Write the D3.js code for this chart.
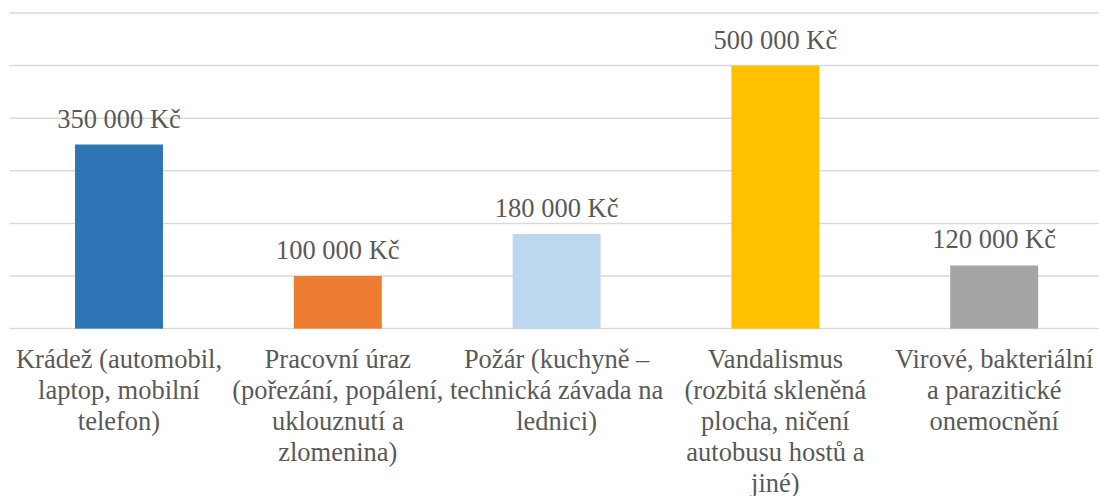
<!DOCTYPE html>
<html>
<head>
<meta charset="utf-8">
<script src="https://cdn.jsdelivr.net/npm/d3@7"></script>
<style>
html, body { margin: 0; padding: 0; background: #fff; }
svg { display: block; }
</style>
</head>
<body>
<svg id="s" width="1099" height="496" font-family="'Times New Roman', 'Liberation Serif', Tinos, serif"></svg>
<script>
const categories = [
  ["Krádež (automobil,", "laptop, mobilní", "telefon)"],
  ["Pracovní úraz", "(pořezání, popálení,", "uklouznutí a", "zlomenina)"],
  ["Požár (kuchyně –", "technická závada na", "lednici)"],
  ["Vandalismus", "(rozbitá skleněná", "plocha, ničení", "autobusu hostů a", "jiné)"],
  ["Virové, bakteriální", "a parazitické", "onemocnění"]
];
const values = [350000, 100000, 180000, 500000, 120000];
const colors = ["#2E75B6", "#ED7D31", "#BDD7EE", "#FFC000", "#A5A5A5"];
const yTicks = [0, 100000, 200000, 300000, 400000, 500000, 600000];

const s = d3.select("#s");
const mLeft = 9.6, mRight = 1103.6, mTop = 13, mBottom = 328.6;
const textColor = "#595959";
const FONT = '"Times New Roman", "Liberation Serif", Tinos, serif';

const x = d3.scaleBand()
  .domain(d3.range(categories.length))
  .range([mLeft, mRight])
  .paddingInner(0.598)
  .paddingOuter(0.299);

const y = d3.scaleLinear().domain([0, 600000]).range([mBottom, mTop]);

// gridlines
yTicks.forEach(t => {
  s.append("line")
    .attr("x1", mLeft).attr("x2", 1099)
    .attr("y1", y(t)).attr("y2", y(t))
    .attr("stroke", "#D9D9D9").attr("stroke-width", 1.5);
});

// bars
values.forEach((v, i) => {
  s.append("rect")
    .attr("x", x(i))
    .attr("width", x.bandwidth())
    .attr("y", y(v))
    .attr("height", y(0) - y(v))
    .attr("fill", colors[i]);
});

// data labels
const fmt = v => d3.format(",")(v).replace(/,/g, " ") + " Kč";
values.forEach((v, i) => {
  s.append("text")
    .attr("x", x(i) + x.bandwidth() / 2)
    .attr("y", y(v) - 17)
    .attr("text-anchor", "middle")
    .style("font-family", FONT)
    .style("font-size", "26.5px")
    .attr("fill", textColor)
    .text(fmt(v));
});

// category labels
categories.forEach((lines, i) => {
  lines.forEach((ln, j) => {
    s.append("text")
      .attr("x", x(i) + x.bandwidth() / 2)
      .attr("y", 368 + j * 31)
      .attr("text-anchor", "middle")
      .style("font-family", FONT)
      .style("font-size", "26.5px")
      .attr("fill", textColor)
      .text(ln);
  });
});
</script>
</body>
</html>
